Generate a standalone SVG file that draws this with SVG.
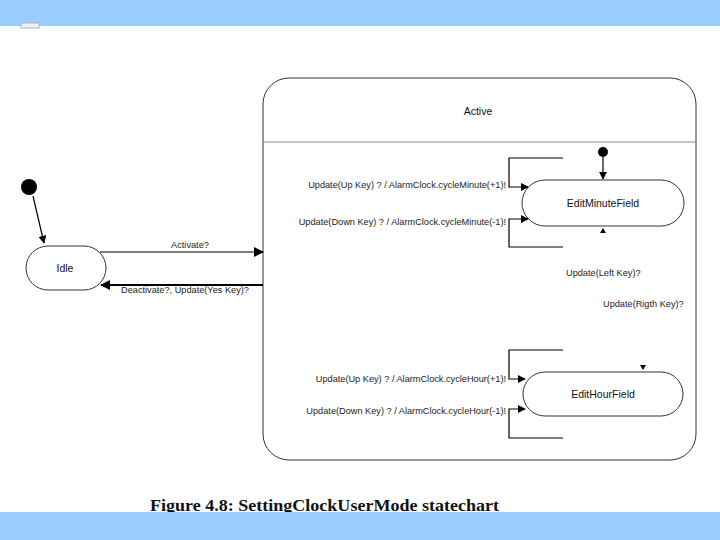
<svg xmlns="http://www.w3.org/2000/svg" width="720" height="540" viewBox="0 0 720 540">
<defs>
<style>
.lbl{font-family:"Liberation Sans",Arial,sans-serif;font-size:9.2px;fill:#222}
.st{font-family:"Liberation Sans",Arial,sans-serif;font-size:10.5px;fill:#111}
.state{fill:#fff;stroke:#333;stroke-width:1}
.ln{fill:none;stroke:#000;stroke-width:1.2}
.thick{fill:none;stroke:#000;stroke-width:2}
</style>
<marker id="ah" viewBox="0 0 10 10" refX="9" refY="5" markerWidth="8" markerHeight="8" markerUnits="userSpaceOnUse" orient="auto"><path d="M0,0 L10,5 L0,10 z" fill="#000"/></marker>
<marker id="ahb" viewBox="0 0 10 10" refX="9" refY="5" markerWidth="10" markerHeight="10" markerUnits="userSpaceOnUse" orient="auto"><path d="M0,0 L10,5 L0,10 z" fill="#000"/></marker>
</defs>
<rect width="720" height="540" fill="#fff"/>
<rect x="0" y="0" width="720" height="26" fill="#99ccff"/>
<rect x="21" y="23" width="18" height="5" fill="#eef2f5" stroke="#aab4bd" stroke-width="1"/>

<g id="Active">
<rect x="263" y="78" width="433" height="382" rx="26" ry="26" class="state" stroke="#555"/>
<line x1="263" y1="142" x2="696" y2="142" stroke="#888" stroke-width="1"/>
<text x="478" y="115" class="st" text-anchor="middle">Active</text>
</g>

<g id="init1"><circle cx="29" cy="187" r="8" fill="#000"/></g>
<g id="Idle">
<rect x="26" y="246" width="80" height="44" rx="22" ry="22" class="state"/>
<text x="65" y="272" class="st" text-anchor="middle">Idle</text>
</g>

<g id="init2"><circle cx="603" cy="152" r="5" fill="#000"/></g>
<g id="EditMinuteField">
<rect x="522" y="180" width="162" height="46" rx="23" ry="23" class="state"/>
<text x="603" y="207" class="st" text-anchor="middle">EditMinuteField</text>
</g>

<g id="EditHourField">
<rect x="523" y="372" width="160" height="44" rx="22" ry="22" class="state"/>
<text x="603" y="398" class="st" text-anchor="middle">EditHourField</text>
</g>

<g id="connectors">
<line x1="33" y1="196" x2="44" y2="243" class="ln" marker-end="url(#ah)"/>
<line x1="100" y1="252" x2="263" y2="252" class="ln" marker-end="url(#ahb)"/>
<text x="190" y="248" class="lbl" text-anchor="middle">Activate?</text>
<line x1="263" y1="285" x2="101" y2="285" class="thick" marker-end="url(#ahb)"/>
<text x="185" y="293" class="lbl" text-anchor="middle">Deactivate?, Update(Yes Key)?</text>

<line x1="603" y1="157" x2="603" y2="179" class="ln" marker-end="url(#ah)"/>
<polyline points="563,158 509,158 509,187 528,187" class="ln" marker-end="url(#ah)"/>
<polyline points="563,247 509,247 509,219 528,219" class="ln" marker-end="url(#ah)"/>
<text x="506" y="188" class="lbl" text-anchor="end">Update(Up Key) ? / AlarmClock.cycleMinute(+1)!</text>
<text x="506" y="225" class="lbl" text-anchor="end">Update(Down Key) ? / AlarmClock.cycleMinute(-1)!</text>

<path d="M603,228 L606,233 L600,233 z" fill="#000"/>
<text x="566" y="276" class="lbl">Update(Left Key)?</text>
<text x="603" y="307" class="lbl">Update(Rigth Key)?</text>
<path d="M640,365 L646,365 L643,370 z" fill="#000"/>

<polyline points="563,350 509,350 509,379 525,379" class="ln" marker-end="url(#ah)"/>
<polyline points="563,438 509,438 509,409 525,409" class="ln" marker-end="url(#ah)"/>
<text x="506" y="382" class="lbl" text-anchor="end">Update(Up Key) ? / AlarmClock.cycleHour(+1)!</text>
<text x="506" y="414" class="lbl" text-anchor="end">Update(Down Key) ? / AlarmClock.cycleHour(-1)!</text>
</g>

<text x="150" y="511" font-family="Liberation Serif,'Times New Roman',serif" font-weight="bold" font-size="17" textLength="349" lengthAdjust="spacingAndGlyphs" fill="#111">Figure 4.8: SettingClockUserMode statechart</text>
<rect x="0" y="512" width="720" height="28" fill="#99ccff"/>
</svg>
